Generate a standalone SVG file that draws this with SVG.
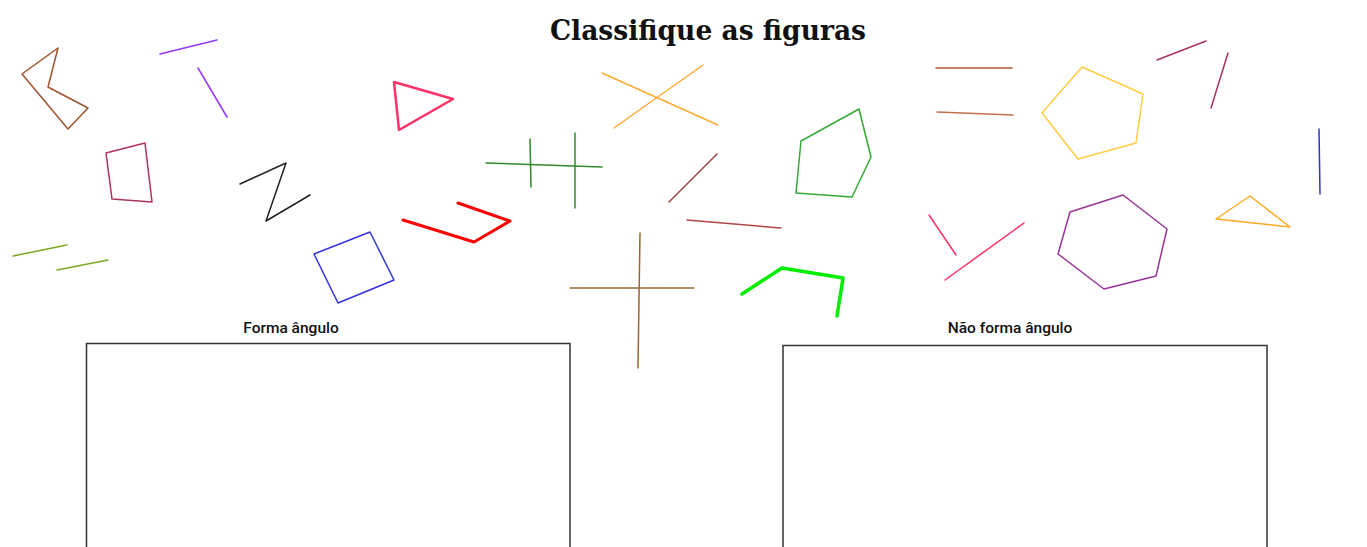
<svg xmlns="http://www.w3.org/2000/svg" width="1367" height="547" viewBox="0 0 1367 547">
<style>
.s{fill:none;stroke-linecap:round;stroke-linejoin:round;stroke-width:1.5}
.t{stroke-width:2.5}
.r{stroke-width:3}
.g{stroke-width:3.5}
.b{fill:#fff;stroke:#333;stroke-width:1.5}
.lbl{font-family:Roboto,"Liberation Sans",sans-serif;font-weight:500;font-size:15.5px;fill:#111;text-anchor:middle}
</style>
<rect width="1367" height="547" fill="#fff"/>
<text x="708" y="40" font-family="'DejaVu Serif','Liberation Serif',serif" font-weight="bold" font-size="27" fill="#111" text-anchor="middle" textLength="316" lengthAdjust="spacingAndGlyphs">Classifique as figuras</text>
<g id="shapes">
<polygon id="s1" class="s" stroke="#a0522d" points="58,48 22,74 68,129 88,108 48,87"/>
<line id="s2" class="s" stroke="#9933ff" x1="160" y1="54" x2="217" y2="40"/>
<line id="s3" class="s" stroke="#9933ff" x1="198" y1="68" x2="227" y2="117"/>
<polygon id="s4" class="s" stroke="#b03060" points="106,153 145,143 152,202 112,199"/>
<polyline id="s5" class="s" stroke="#222" points="240,184 286,163 266,221 310,195"/>
<line id="s6" class="s" stroke="#7aaa22" x1="13" y1="256" x2="67" y2="245"/>
<line id="s7" class="s" stroke="#7aaa22" x1="57" y1="270" x2="108" y2="260"/>
<polygon id="s8" class="s t" stroke="#ff3366" points="394,82 453,99 399,130"/>
<polyline id="s9" class="s r" stroke="#ff0000" points="403,220 474,242 510,221 458,203"/>
<polygon id="s10" class="s" stroke="#3333dd" points="314,254 370,232 394,280 338,303"/>
<line id="s11" class="s" stroke="#ffaa33" x1="602" y1="73" x2="718" y2="125"/>
<line id="s12" class="s" stroke="#ffaa33" x1="703" y1="65" x2="614" y2="128"/>
<line id="s13" class="s" stroke="#2e8b2e" x1="486" y1="163" x2="602" y2="167"/>
<line id="s14" class="s" stroke="#2e8b2e" x1="530" y1="139" x2="531" y2="187"/>
<line id="s15" class="s" stroke="#2e8b2e" x1="575" y1="133" x2="575" y2="208"/>
<line id="s16" class="s" stroke="#a04040" x1="717" y1="154" x2="669" y2="202"/>
<line id="s17" class="s" stroke="#b04848" x1="687" y1="220" x2="781" y2="228"/>
<line id="s18" class="s" stroke="#996633" x1="570" y1="288" x2="694" y2="288"/>
<line id="s19" class="s" stroke="#996633" x1="640" y1="233" x2="638" y2="368"/>
<polyline id="s20" class="s g" stroke="#00ee00" points="742,294 782,268 843,278 837,316"/>
<polygon id="s21" class="s" stroke="#33aa33" points="859,109 871,157 852,197 796,193 801,141"/>
<line id="s22" class="s" stroke="#aa5533" x1="936" y1="68" x2="1012" y2="68"/>
<line id="s23" class="s" stroke="#c07050" x1="937" y1="112" x2="1013" y2="115"/>
<line id="s24" class="s" stroke="#ff3366" x1="929" y1="215" x2="956" y2="255"/>
<line id="s25" class="s" stroke="#ff3366" x1="945" y1="280" x2="1024" y2="223"/>
<polygon id="s26" class="s" stroke="#ffcc44" points="1082,67 1143,94 1136,143 1078,159 1042,113"/>
<line id="s27" class="s" stroke="#aa3355" x1="1157" y1="60" x2="1206" y2="41"/>
<line id="s28" class="s" stroke="#aa3355" x1="1228" y1="53" x2="1211" y2="108"/>
<line id="s29" class="s" stroke="#3333cc" x1="1319" y1="129" x2="1320" y2="194"/>
<polygon id="s30" class="s" stroke="#ffaa22" points="1250,196 1290,227 1216,219"/>
<polygon id="s31" class="s" stroke="#993399" points="1123,195 1167,229 1156,276 1104,289 1058,254 1070,212"/>
</g>
<g id="box-left">
<text class="lbl" x="291" y="333">Forma ângulo</text>
<rect class="b" x="86.5" y="343.5" width="483.5" height="220"/>
</g>
<g id="box-right">
<text class="lbl" x="1010" y="333">Não forma ângulo</text>
<rect class="b" x="783" y="345.5" width="484" height="220"/>
</g>
</svg>
